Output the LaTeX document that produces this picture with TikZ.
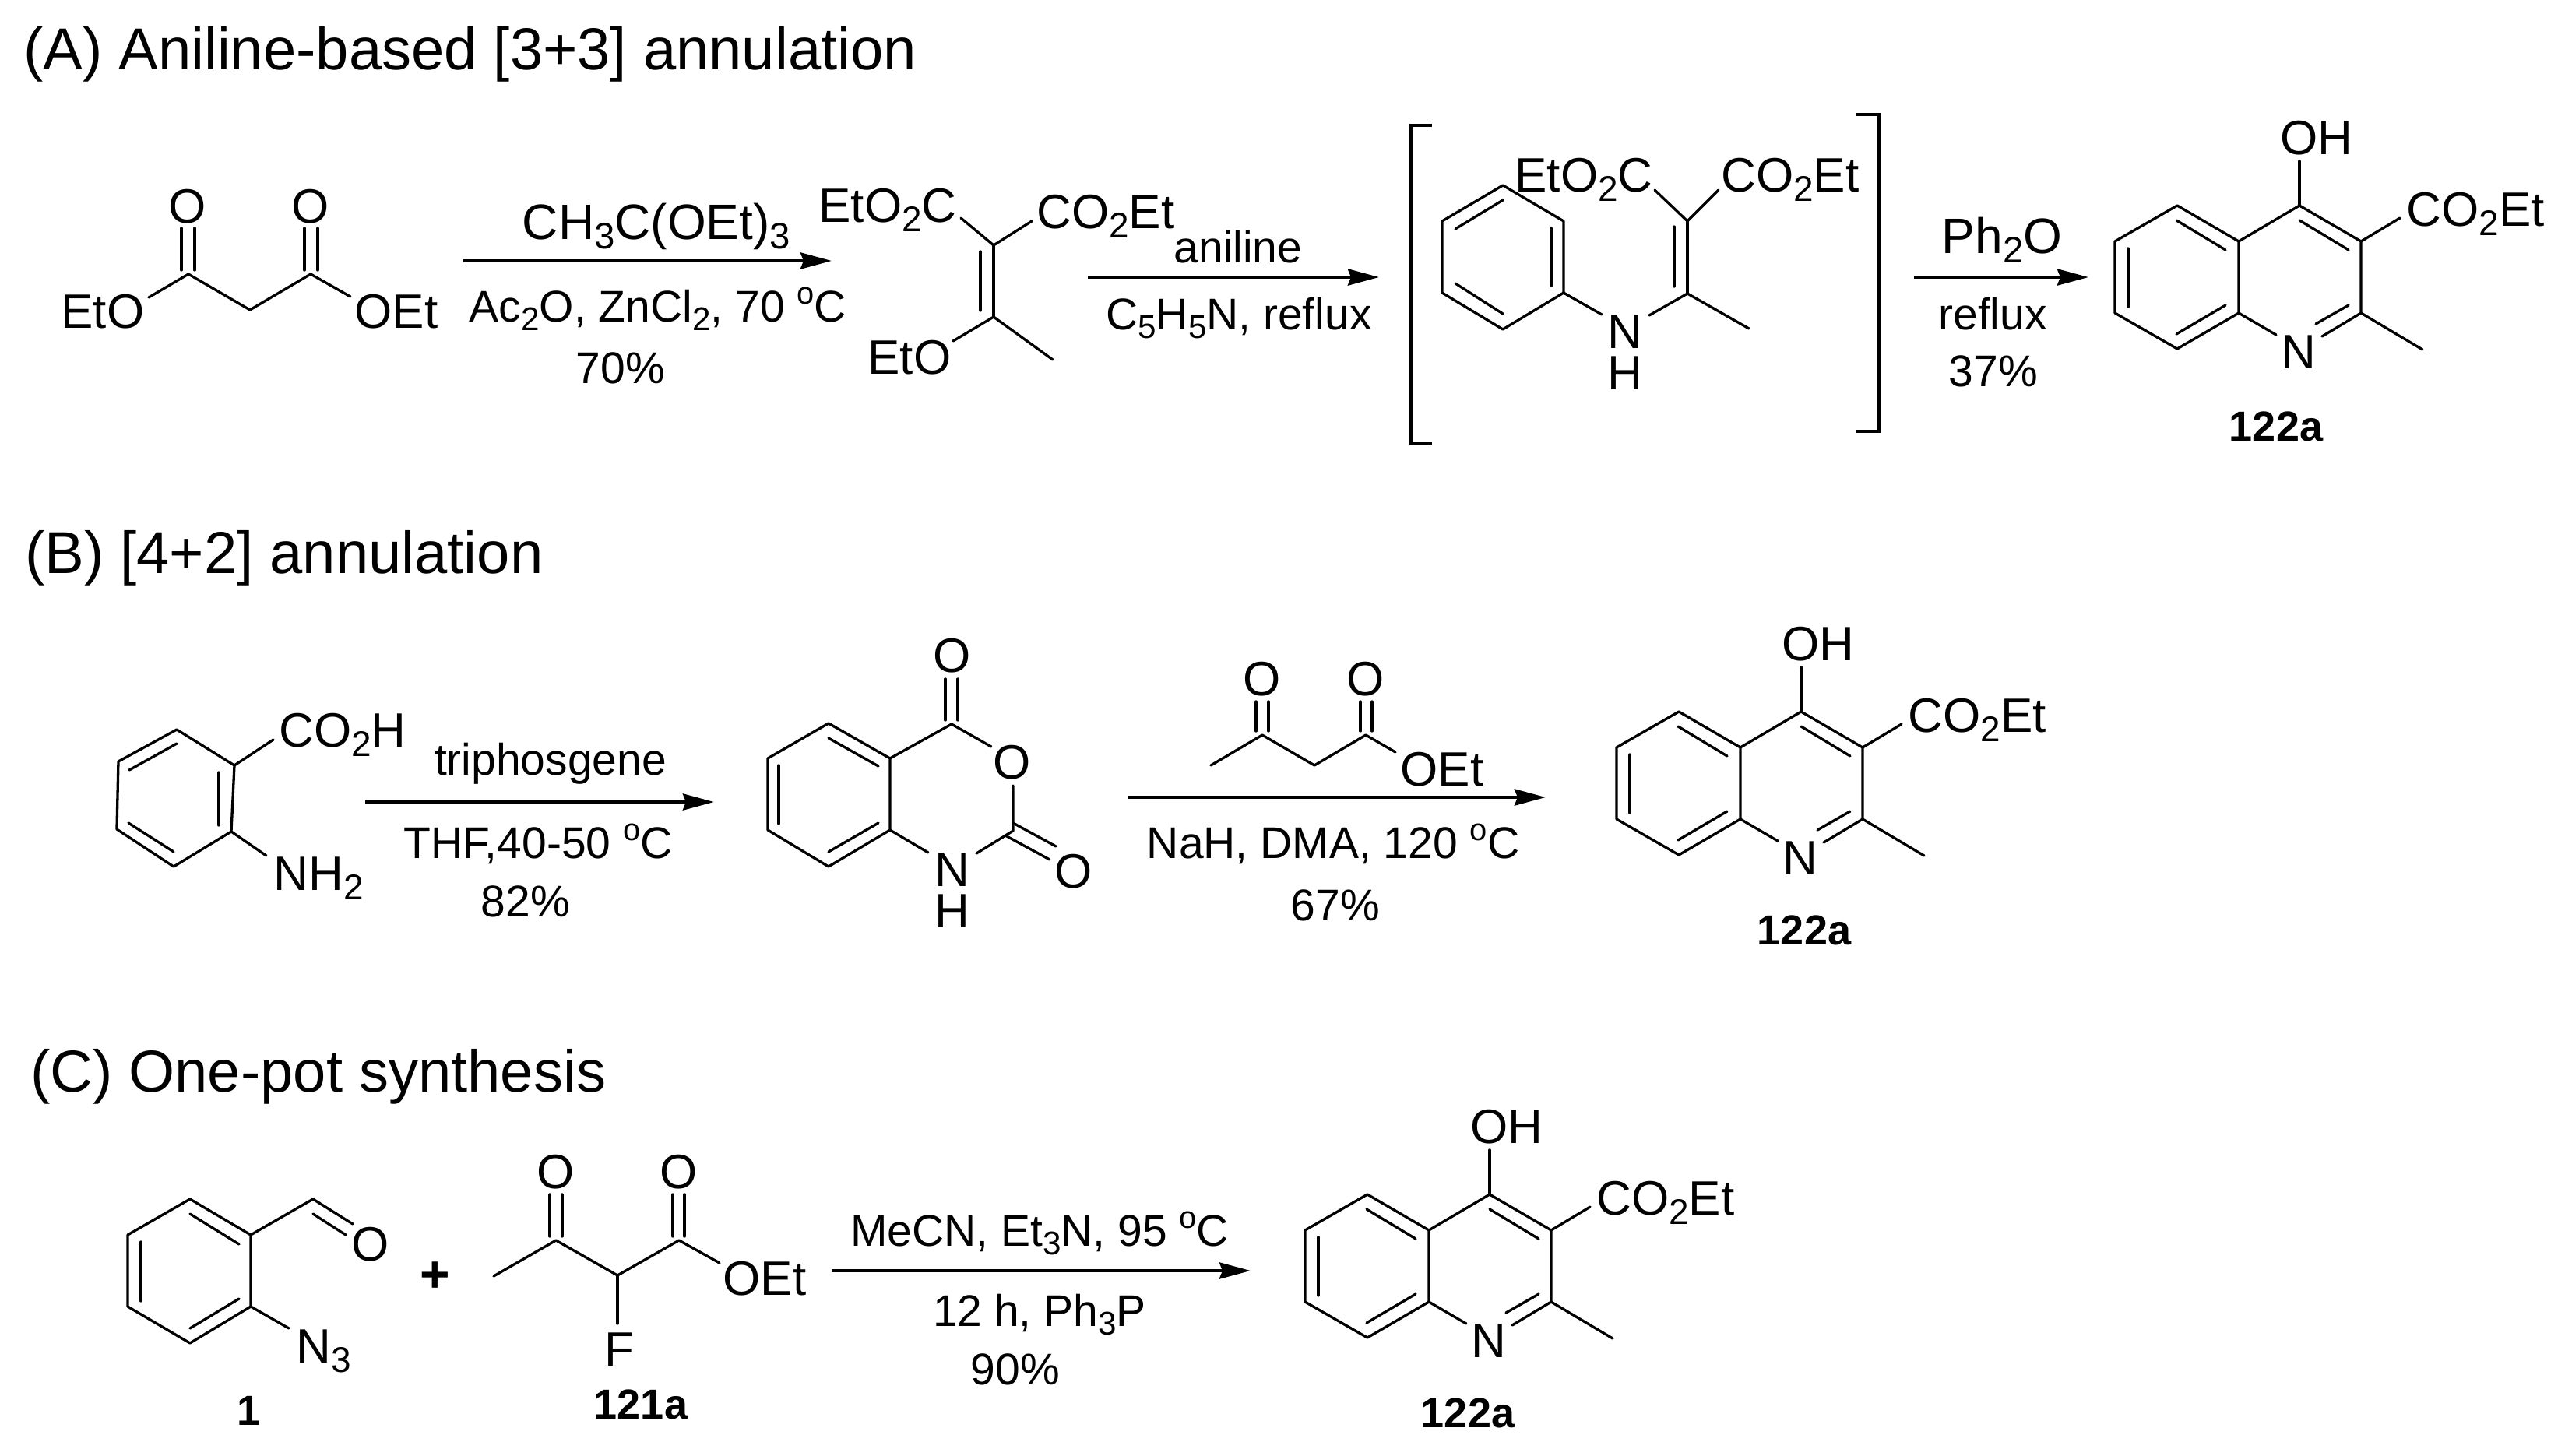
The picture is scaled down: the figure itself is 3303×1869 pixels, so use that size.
\documentclass[tikz,border=0pt]{standalone}
\usepackage{fontspec}
\setmainfont{Liberation Sans}
\usetikzlibrary{arrows.meta}
\newcommand{\sbs}[1]{\raisebox{-.2em}{\fontsize{.74em}{.74em}\selectfont #1}}
\newcommand{\sps}[1]{\raisebox{.4em}{\fontsize{.7em}{.7em}\selectfont #1}}
\newcommand{\NH}{\vbox{\baselineskip=53pt\hbox{N}\hbox{H}}}
\tikzset{
  bond/.style={line width=3.3pt,line cap=round,line join=round,black},
  rxn/.style={line width=4.5pt,black,-{Stealth[length=40pt,width=21pt,inset=4pt]}},
  brk/.style={line width=4pt,black,line join=miter},
  base/.style={inner sep=0pt,outer sep=0pt,anchor=base,text=black},
  lab/.style={base,font=\fontsize{62}{62}\selectfont},
  rea/.style={base,font=\fontsize{57}{57}\selectfont},
  reab/.style={base,font=\fontsize{64}{64}\selectfont},
  cpd/.style={base,font=\fontsize{54}{54}\selectfont\bfseries},
  ttl/.style={inner sep=0pt,outer sep=0pt,anchor=base west,font=\fontsize{76}{76}\selectfont},
}
% quinoline product: prefix, shift x, shift y
\newcommand{\quin}[3]{%
\begin{scope}[shift={(#2,#3)}]
  \coordinate (#1a) at (2796,264);
  \coordinate (#1b) at (2716,310);
  \coordinate (#1c) at (2716,402);
  \coordinate (#1d) at (2796,448);
  \coordinate (#1e) at (2875,402);
  \coordinate (#1f) at (2875,310);
  \coordinate (#1g) at (2953,264);
  \coordinate (#1h) at (3032,310);
  \coordinate (#1i) at (3032,402);
  \coordinate (#1me) at (3111,449);
  \coordinate (#1oh) at (2953,207);
  \coordinate (#1es) at (3082,280);
  \coordinate (#1n1) at (2923,430);
  \coordinate (#1n2) at (2982,432);
  \draw[bond] (#1f) -- (#1a) -- (#1b) -- (#1c) -- (#1d) -- (#1e) -- cycle;
  \draw[bond] (#1f) -- (#1g) -- (#1h) -- (#1i) -- (#1n2);
  \draw[bond] (#1e) -- (#1n1);
  \draw[bond] (#1i) -- (#1me);
  \draw[bond] (#1g) -- (#1oh);
  \draw[bond] (#1h) -- (#1es);
  \draw[bond] (2795,283) -- (2858,321);
  \draw[bond] (2733,319) -- (2733,394);
  \draw[bond] (2795,429) -- (2858,392);
  \draw[bond] (2953,283) -- (3016,321);
  \draw[bond] (3016,392) -- (2974,416);
  \node[lab] (#1N) at (2952,473) {N};
  \node[lab] (#1OH) at (2975,198) {OH};
  \node[lab] (#1CO) at (3179,290) {CO\sbs{2}Et};
\end{scope}}
\begin{document}
\begin{tikzpicture}[x=1pt,y=-1pt]
\useasboundingbox (0,0) rectangle (3303,1869);
\fill[white] (0,0) rectangle (3303,1869);

% ---------- titles
\node[ttl] (tA) at (30,89) {(A) Aniline-based [3+3] annulation};
\node[ttl] (tB) at (32,736) {(B) [4+2] annulation};
\node[ttl] (tC) at (39,1402) {(C) One-pot synthesis};

% ---------- (A) diethyl malonate
\coordinate (m1) at (242,352);
\coordinate (m2) at (321,398);
\coordinate (m3) at (399,352);
\coordinate (m4) at (191,382);
\coordinate (m5) at (450,381);
\draw[bond] (m4) -- (m1) -- (m2) -- (m3) -- (m5);
\draw[bond] (233,293) -- (233,347);
\draw[bond] (250,293) -- (250,347);
\draw[bond] (391,293) -- (391,347);
\draw[bond] (408,293) -- (408,347);
\node[lab] (mO1) at (241,286) {O};
\node[lab] (mO2) at (399,286) {O};
\node[lab] (mEtO) at (132,421) {EtO};
\node[lab] (mOEt) at (509,421) {OEt};

% arrow 1
\coordinate (a1s) at (595,335);
\coordinate (a1e) at (1068,335);
\draw[rxn] (a1s) -- (a1e);
\node[reab] (r1a) at (843,307) {CH\sbs{3}C(OEt)\sbs{3}};
\node[rea] (r1b) at (845,413) {Ac\sbs{2}O, ZnCl\sbs{2}, 70 \sps{o}C};
\node[rea] (r1c) at (797,492) {70\%};

% enol ether
\coordinate (e1) at (1276,315);
\coordinate (e2) at (1276,407);
\coordinate (e3) at (1325,284);
\coordinate (e4) at (1234,280);
\coordinate (e5) at (1224,438);
\coordinate (e6) at (1352,462);
\draw[bond] (e4) -- (e1) -- (e3);
\draw[bond] (e1) -- (e2);
\draw[bond] (e5) -- (e2) -- (e6);
\draw[bond] (1259,323) -- (1259,399);
\node[lab] (eA) at (1140,285) {EtO\sbs{2}C};
\node[lab] (eB) at (1420,293) {CO\sbs{2}Et};
\node[lab] (eC) at (1168,480) {EtO};

% arrow 2
\coordinate (a2s) at (1397,356);
\coordinate (a2e) at (1771,356);
\draw[rxn] (a2s) -- (a2e);
\node[rea] (r2a) at (1590,337) {aniline};
\node[rea] (r2b) at (1591,423) {C\sbs{5}H\sbs{5}N, reflux};

% brackets
\coordinate (bl1) at (1839,161);
\coordinate (bl2) at (1812,161);
\coordinate (bl3) at (1812,570);
\coordinate (bl4) at (1839,570);
\coordinate (br1) at (2384,147);
\coordinate (br2) at (2413,147);
\coordinate (br3) at (2413,554);
\coordinate (br4) at (2384,554);
\draw[brk] (bl1) -- (bl2) -- (bl3) -- (bl4);
\draw[brk] (br1) -- (br2) -- (br3) -- (br4);

% intermediate
\coordinate (i1) at (1930,238);
\coordinate (i2) at (1852,284);
\coordinate (i3) at (1852,376);
\coordinate (i4) at (1930,423);
\coordinate (i5) at (2008,376);
\coordinate (i6) at (2008,284);
\coordinate (i7) at (2057,404);
\coordinate (i8) at (2118,405);
\coordinate (i9) at (2167,377);
\coordinate (i10) at (2167,284);
\coordinate (i11) at (2125,244);
\coordinate (i12) at (2207,244);
\coordinate (i13) at (2246,422);
\draw[bond] (i1) -- (i2) -- (i3) -- (i4) -- (i5) -- (i6) -- cycle;
\draw[bond] (i5) -- (i7);
\draw[bond] (i8) -- (i9) -- (i13);
\draw[bond] (i9) -- (i10);
\draw[bond] (i11) -- (i10) -- (i12);
\draw[bond] (2150,291) -- (2150,368);
\draw[bond] (1930,257) -- (1869,294);
\draw[bond] (1992,293) -- (1992,367);
\draw[bond] (1869,364) -- (1930,403);
\node[lab] (iNH) at (2087,500) {\NH};
\node[lab] (iA) at (2034,246) {EtO\sbs{2}C};
\node[lab] (iB) at (2299,246) {CO\sbs{2}Et};

% arrow 3
\coordinate (a3s) at (2458,356);
\coordinate (a3e) at (2682,356);
\draw[rxn] (a3s) -- (a3e);
\node[reab] (r3a) at (2571,325) {Ph\sbs{2}O};
\node[rea] (r3b) at (2559,423) {reflux};
\node[rea] (r3c) at (2560,496) {37\%};

% product A
\quin{qa}{0}{0}
\node[cpd] (cA) at (2923,566) {122a};

% ---------- (B) anthranilic acid
\coordinate (b1) at (227,937);
\coordinate (b2) at (152,978);
\coordinate (b3) at (150,1065);
\coordinate (b4) at (223,1113);
\coordinate (b5) at (297,1068);
\coordinate (b6) at (301,983);
\coordinate (b7) at (351,950);
\coordinate (b8) at (342,1099);
\draw[bond] (b1) -- (b2) -- (b3) -- (b4) -- (b5) -- (b6) -- cycle;
\draw[bond] (b6) -- (b7);
\draw[bond] (b5) -- (b8);
\draw[bond] (227,955) -- (166,989);
\draw[bond] (281,992) -- (281,1060);
\draw[bond] (165,1057) -- (223,1094);
\node[lab] (bA) at (440,959) {CO\sbs{2}H};
\node[lab] (bB) at (409,1143) {NH\sbs{2}};

% arrow B1
\coordinate (a4s) at (469,1030);
\coordinate (a4e) at (917,1030);
\draw[rxn] (a4s) -- (a4e);
\node[rea] (r4a) at (707,995) {triphosgene};
\node[rea] (r4b) at (691,1102) {THF,40-50 \sps{o}C};
\node[rea] (r4c) at (675,1177) {82\%};

% isatoic anhydride
\coordinate (c1) at (1064,929);
\coordinate (c2) at (986,974);
\coordinate (c3) at (986,1066);
\coordinate (c4) at (1064,1113);
\coordinate (c5) at (1143,1066);
\coordinate (c6) at (1143,974);
\coordinate (c7) at (1222,930);
\coordinate (c8) at (1273,959);
\coordinate (c9) at (1301,1009);
\coordinate (c10) at (1301,1067);
\coordinate (c11) at (1254,1096);
\coordinate (c12) at (1192,1095);
\draw[bond] (c1) -- (c2) -- (c3) -- (c4) -- (c5) -- (c6) -- cycle;
\draw[bond] (c6) -- (c7) -- (c8);
\draw[bond] (c9) -- (c10) -- (c11);
\draw[bond] (c5) -- (c12);
\draw[bond] (1214,872) -- (1214,925);
\draw[bond] (1230,872) -- (1230,925);
\draw[bond] (1301,1057) -- (1356,1087);
\draw[bond] (1291,1073) -- (1348,1104);
\draw[bond] (1064,948) -- (1128,984);
\draw[bond] (1000,983) -- (1000,1058);
\draw[bond] (1064,1094) -- (1128,1057);
\node[lab] (cO1) at (1223,863) {O};
\node[lab] (cO2) at (1300,1000) {O};
\node[lab] (cO3) at (1379,1140) {O};
\node[lab] (cNH) at (1223,1191) {\NH};

% ethyl acetoacetate
\coordinate (k1) at (1555,983);
\coordinate (k2) at (1621,944);
\coordinate (k3) at (1688,983);
\coordinate (k4) at (1754,944);
\coordinate (k5) at (1792,966);
\draw[bond] (k1) -- (k2) -- (k3) -- (k4) -- (k5);
\draw[bond] (1613,901) -- (1613,939);
\draw[bond] (1629,901) -- (1629,939);
\draw[bond] (1747,901) -- (1747,939);
\draw[bond] (1762,901) -- (1762,939);
\node[lab] (kO1) at (1621,893) {O};
\node[lab] (kO2) at (1754,893) {O};
\node[lab] (kE) at (1852,1009) {OEt};

% arrow B2
\coordinate (a5s) at (1448,1024);
\coordinate (a5e) at (1985,1024);
\draw[rxn] (a5s) -- (a5e);
\node[rea] (r5b) at (1712,1102) {NaH, DMA, 120 \sps{o}C};
\node[rea] (r5c) at (1715,1182) {67\%};

% product B
\quin{qb}{-640}{650}
\node[cpd] (cB) at (2317,1213) {122a};

% ---------- (C) azidobenzaldehyde
\coordinate (d1) at (244,1540);
\coordinate (d2) at (164,1586);
\coordinate (d3) at (164,1678);
\coordinate (d4) at (244,1725);
\coordinate (d5) at (322,1678);
\coordinate (d6) at (322,1586);
\coordinate (d7) at (402,1540);
\coordinate (d8) at (453,1572);
\coordinate (d9) at (371,1706);
\draw[bond] (d1) -- (d2) -- (d3) -- (d4) -- (d5) -- (d6) -- cycle;
\draw[bond] (d6) -- (d7) -- (d8);
\draw[bond] (d5) -- (d9);
\draw[bond] (244,1559) -- (307,1598);
\draw[bond] (181,1595) -- (181,1671);
\draw[bond] (244,1706) -- (307,1668);
\draw[bond] (402,1559) -- (444,1586);
\node[lab] (dO) at (476,1619) {O};
\node[lab] (dN) at (416,1750) {N\sbs{3}};
\node[cpd] (c1lab) at (320,1830) {1};
\node[base,font=\fontsize{66}{66}\selectfont\bfseries] (plus) at (559,1659) {+};

% fluoro ketoester
\coordinate (f1) at (634,1639);
\coordinate (f2) at (714,1593);
\coordinate (f3) at (793,1638);
\coordinate (f4) at (872,1593);
\coordinate (f5) at (924,1622);
\coordinate (f6) at (793,1700);
\draw[bond] (f1) -- (f2) -- (f3) -- (f4) -- (f5);
\draw[bond] (f3) -- (f6);
\draw[bond] (706,1534) -- (706,1588);
\draw[bond] (722,1534) -- (722,1588);
\draw[bond] (864,1534) -- (864,1588);
\draw[bond] (879,1534) -- (879,1588);
\node[lab] (fO1) at (714,1526) {O};
\node[lab] (fO2) at (872,1526) {O};
\node[lab] (fE) at (982,1663) {OEt};
\node[lab] (fF) at (795,1754) {F};
\node[cpd] (c121) at (823,1822) {121a};

% arrow C
\coordinate (a6s) at (1068,1632);
\coordinate (a6e) at (1606,1632);
\draw[rxn] (a6s) -- (a6e);
\node[rea] (r6a) at (1335,1600) {MeCN, Et\sbs{3}N, 95 \sps{o}C};
\node[rea] (r6b) at (1335,1703) {12 h, Ph\sbs{3}P};
\node[rea] (r6c) at (1304,1778) {90\%};

% product C
\quin{qc}{-1040}{1270}
\node[cpd] (cC) at (1885,1833) {122a};
\end{tikzpicture}
\end{document}
